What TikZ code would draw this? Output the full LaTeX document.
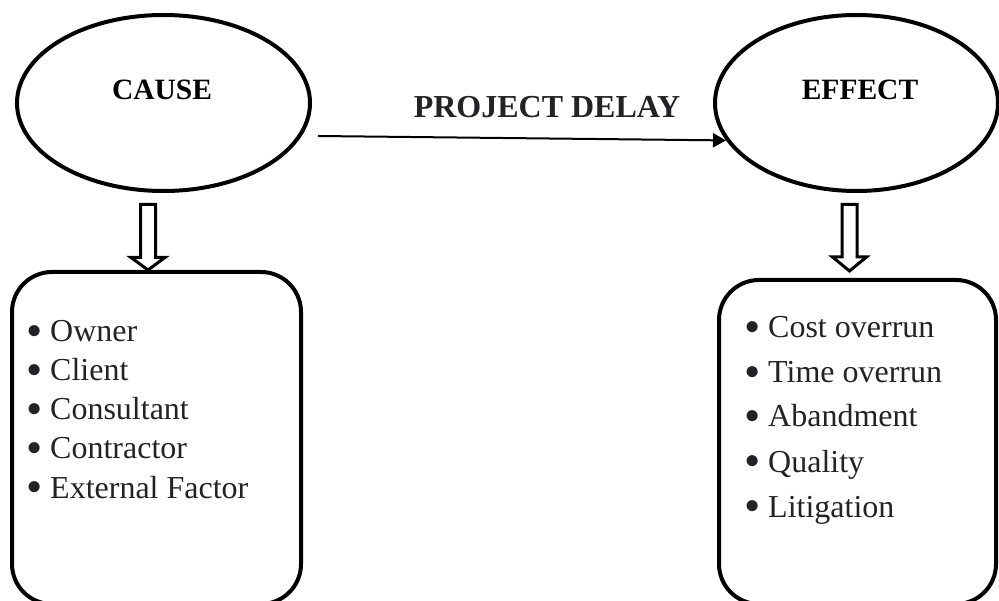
\documentclass[tikz,border=0pt]{standalone}
\usepackage{fontspec}
\setmainfont{Liberation Serif}
\usetikzlibrary{arrows.meta,shapes.geometric,calc}
\definecolor{txt}{RGB}{35,35,38}
\newcommand\holarrow[4]{% x, ytop, ybase, ytip
  \draw[hollow] (#1-7.5,#2) -- (#1+7.5,#2) -- (#1+7.5,#3) -- (#1+17,#3) -- (#1,#4)
    -- (#1-17,#3) -- (#1-7.5,#3) -- cycle;}
\newcommand\bul{\makebox[24pt][l]{\raisebox{-5pt}{\scalebox{1.45}{•}}}}
\begin{document}
\begin{tikzpicture}[x=1pt,y=-1pt,
  oval/.style={ellipse,draw=black,line width=4pt,inner sep=0pt},
  titletext/.style={anchor=base,text=black,font=\bfseries\fontsize{29.5}{32}\selectfont},
  delaytext/.style={anchor=base,text=txt,font=\bfseries\fontsize{32}{36}\selectfont},
  listbox/.style={draw=black,line width=4pt,rounded corners=40pt,inner sep=0pt},
  item/.style={anchor=base west,text=txt,inner sep=0pt,font=\fontsize{32}{36}\selectfont},
  conn/.style={line width=2pt,-{Triangle[length=13pt,width=14pt]}},
  hollow/.style={draw=black,fill=white,line width=3pt,miter limit=10}]
\useasboundingbox (0,0) rectangle (999,601);
% ellipses
\node[oval,minimum width=293pt,minimum height=176pt] (cause) at (163.5,103) {};
\node[oval,minimum width=283pt,minimum height=176pt] (effect) at (856.5,103) {};
\node[titletext] (causelbl) at (162,100) {CAUSE};
\node[titletext] (effectlbl) at (860,100) {EFFECT};
% connector
\coordinate (pstart) at (318,136);
\draw[conn] (pstart) -- (effect.196);
\node[delaytext] (delay) at (547,118) {PROJECT DELAY};
% boxes
\node[listbox,minimum width=289pt,minimum height=332pt] (causebox) at (156.5,438) {};
\node[listbox,minimum width=277pt,minimum height=324pt] (effectbox) at (857.5,442) {};
% hollow arrows
\holarrow{148}{204.5}{257.5}{270}
\holarrow{849.5}{204.5}{257}{271}
% lists
\node[item] (c1) at (26,342) {\bul Owner};
\node[item] (c2) at (26,381) {\bul Client};
\node[item] (c3) at (26,420) {\bul Consultant};
\node[item] (c4) at (26,459) {\bul Contractor};
\node[item] (c5) at (26,498) {\bul External Factor};
\node[item] (e1) at (744,338) {\bul Cost overrun};
\node[item] (e2) at (744,383) {\bul Time overrun};
\node[item] (e3) at (744,427) {\bul Abandment};
\node[item] (e4) at (744,472) {\bul Quality};
\node[item] (e5) at (744,517) {\bul Litigation};
\end{tikzpicture}
\end{document}
